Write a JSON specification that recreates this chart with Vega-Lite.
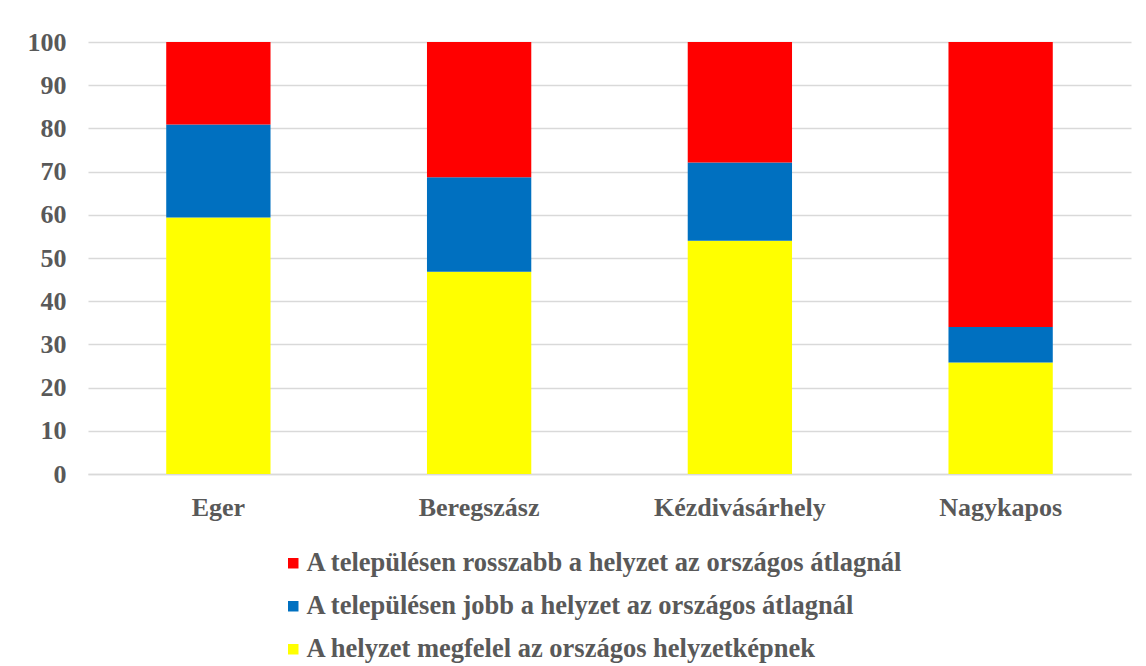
{
  "$schema": "https://vega.github.io/schema/vega-lite/v6.json",
  "width": 1043,
  "height": 432,
  "autosize": {"type": "none"},
  "padding": {"left": 88, "top": 42, "right": 15, "bottom": 192},
  "background": "white",
  "data": {
    "values": [
      {"city": "Eger", "cat": "A helyzet megfelel az országos helyzetképnek", "ord": 1, "value": 59.4},
      {"city": "Eger", "cat": "A településen jobb a helyzet az országos átlagnál", "ord": 2, "value": 21.5},
      {"city": "Eger", "cat": "A településen rosszabb a helyzet az országos átlagnál", "ord": 3, "value": 19.1},
      {"city": "Beregszász", "cat": "A helyzet megfelel az országos helyzetképnek", "ord": 1, "value": 46.8},
      {"city": "Beregszász", "cat": "A településen jobb a helyzet az országos átlagnál", "ord": 2, "value": 21.9},
      {"city": "Beregszász", "cat": "A településen rosszabb a helyzet az országos átlagnál", "ord": 3, "value": 31.3},
      {"city": "Kézdivásárhely", "cat": "A helyzet megfelel az országos helyzetképnek", "ord": 1, "value": 54.0},
      {"city": "Kézdivásárhely", "cat": "A településen jobb a helyzet az országos átlagnál", "ord": 2, "value": 18.1},
      {"city": "Kézdivásárhely", "cat": "A településen rosszabb a helyzet az országos átlagnál", "ord": 3, "value": 27.9},
      {"city": "Nagykapos", "cat": "A helyzet megfelel az országos helyzetképnek", "ord": 1, "value": 25.8},
      {"city": "Nagykapos", "cat": "A településen jobb a helyzet az országos átlagnál", "ord": 2, "value": 8.2},
      {"city": "Nagykapos", "cat": "A településen rosszabb a helyzet az országos átlagnál", "ord": 3, "value": 66.0}
    ]
  },
  "mark": {"type": "bar"},
  "encoding": {
    "x": {
      "field": "city", "type": "nominal", "sort": null, "title": null,
      "scale": {"paddingInner": 0.6, "paddingOuter": 0.3},
      "axis": {"labelAngle": 0, "ticks": false, "domain": true, "domainColor": "#d9d9d9", "domainWidth": 1.5, "labelPadding": 20, "labelFontSize": 26, "labelFont": "Liberation Serif", "labelFontWeight": "bold", "labelColor": "#595959"}
    },
    "y": {
      "field": "value", "type": "quantitative", "stack": "zero", "title": null,
      "scale": {"domain": [0, 100], "nice": false},
      "axis": {"values": [0, 10, 20, 30, 40, 50, 60, 70, 80, 90, 100], "domain": false, "ticks": false, "grid": true, "gridColor": "#d9d9d9", "gridWidth": 1.5, "labelPadding": 22, "labelFontSize": 26, "labelFont": "Liberation Serif", "labelFontWeight": "bold", "labelColor": "#595959"}
    },
    "color": {
      "field": "cat", "type": "nominal", "title": null,
      "scale": {
        "domain": ["A településen rosszabb a helyzet az országos átlagnál", "A településen jobb a helyzet az országos átlagnál", "A helyzet megfelel az országos helyzetképnek"],
        "range": ["#ff0000", "#0070c0", "#ffff00"]
      },
      "legend": {"orient": "none", "legendX": 192, "legendY": 508, "direction": "vertical", "symbolType": "square", "symbolSize": 110, "symbolStrokeWidth": 0, "labelFontSize": 26.5, "labelFont": "Liberation Serif", "labelFontWeight": "bold", "labelColor": "#595959", "labelOffset": 0, "rowPadding": 16, "labelLimit": 900}
    },
    "order": {"field": "ord", "type": "quantitative"}
  },
  "config": {"view": {"stroke": null}}
}
